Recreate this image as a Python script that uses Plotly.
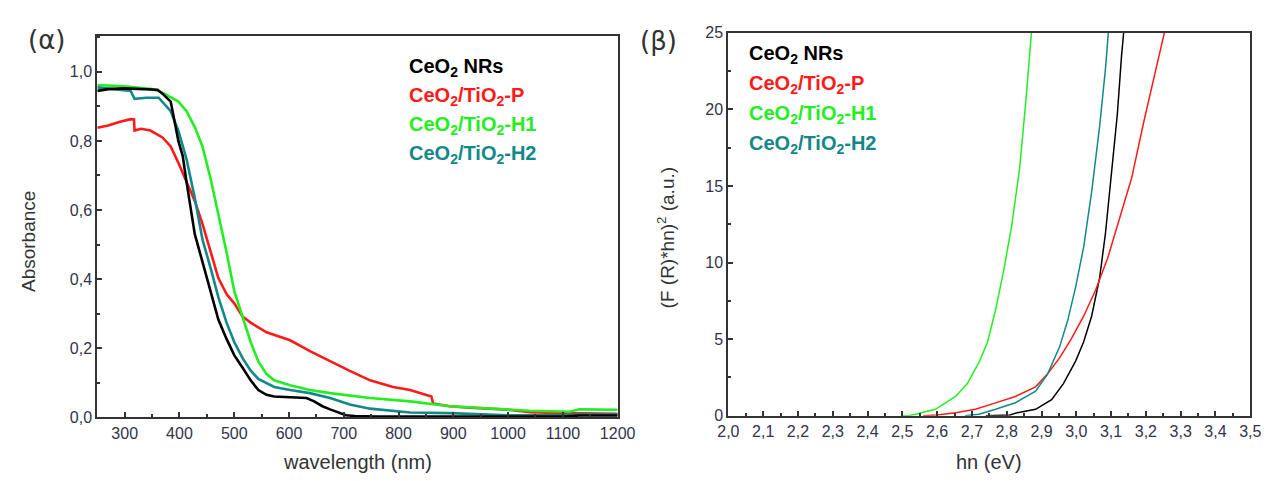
import plotly.graph_objects as go

# ---------------- data: panel (α) absorbance vs wavelength ----------------
wl_nrs = [250, 270, 300, 330, 360, 369, 384, 398, 406, 413, 428, 442, 457, 471, 486, 500, 515, 530,
          544, 559, 573, 600, 617, 632, 646, 661, 675, 690, 704, 720, 733, 760, 800, 900, 1000, 1100,
          1130, 1200]
ab_nrs = [0.945, 0.950, 0.952, 0.950, 0.948, 0.937, 0.914, 0.80, 0.756, 0.68, 0.53, 0.45, 0.366, 0.283,
          0.227, 0.18, 0.144, 0.107, 0.079, 0.065, 0.06, 0.058, 0.058, 0.056, 0.046, 0.032, 0.023, 0.014,
          0.006, 0.004, 0.003, 0.002, 0.002, 0.002, 0.002, 0.002, 0.005, 0.005]

wl_p = [250, 270, 290, 311, 317, 318, 330, 347, 369, 384, 398, 413, 428, 442, 457, 471, 486, 500, 515,
        530, 559, 602, 640, 675, 710, 748, 790, 821, 850, 860, 863, 893, 929, 970, 1000, 1040, 1100, 1200]
ab_p = [0.838, 0.845, 0.855, 0.863, 0.862, 0.830, 0.835, 0.830, 0.810, 0.784, 0.737, 0.680, 0.626, 0.560,
        0.478, 0.403, 0.357, 0.330, 0.292, 0.274, 0.246, 0.223, 0.19, 0.162, 0.135, 0.107, 0.088, 0.079,
        0.065, 0.060, 0.040, 0.032, 0.028, 0.025, 0.022, 0.015, 0.012, 0.010]

wl_h1 = [250, 300, 350, 369, 398, 413, 428, 442, 457, 471, 486, 500, 515, 530, 544, 559, 573, 602, 638,
         675, 748, 821, 893, 966, 1039, 1112, 1130, 1200]
ab_h1 = [0.962, 0.958, 0.950, 0.940, 0.914, 0.886, 0.840, 0.784, 0.690, 0.589, 0.478, 0.366, 0.292, 0.218,
         0.162, 0.125, 0.107, 0.093, 0.079, 0.070, 0.056, 0.046, 0.032, 0.025, 0.019, 0.016, 0.023, 0.022]

wl_h2 = [250, 280, 311, 318, 340, 362, 384, 398, 413, 428, 442, 457, 471, 486, 500, 515, 530, 544, 573,
         602, 638, 675, 711, 748, 784, 821, 893, 1000, 1100, 1130, 1200]
ab_h2 = [0.955, 0.950, 0.945, 0.922, 0.925, 0.925, 0.886, 0.830, 0.747, 0.635, 0.515, 0.431, 0.348, 0.274,
         0.218, 0.172, 0.135, 0.111, 0.088, 0.079, 0.070, 0.056, 0.037, 0.025, 0.019, 0.014, 0.012, 0.006,
         0.006, 0.009, 0.009]

# ---------------- data: panel (β) Tauc plot ----------------
ev_nrs = [2.74, 2.78, 2.81, 2.825, 2.883, 2.929, 2.963, 2.998, 3.021, 3.044, 3.067, 3.084, 3.101, 3.118,
          3.13, 3.136]
tc_nrs = [0, 0.02, 0.05, 0.17, 0.42, 1.05, 2.1, 3.57, 4.82, 6.5, 9.0, 11.95, 15.7, 19.7, 23.5, 25]

ev_p = [2.56, 2.60, 2.653, 2.71, 2.768, 2.825, 2.883, 2.917, 2.952, 2.986, 3.021, 3.055, 3.09, 3.124,
        3.159, 3.193, 3.228, 3.253]
tc_p = [0, 0.05, 0.2, 0.42, 0.84, 1.26, 1.89, 2.73, 3.78, 5.03, 6.5, 8.18, 10.28, 12.79, 15.52, 19.1,
        22.44, 25]

ev_h1 = [2.50, 2.52, 2.538, 2.595, 2.653, 2.687, 2.722, 2.745, 2.768, 2.791, 2.814, 2.837, 2.854, 2.871]
tc_h1 = [0, 0.02, 0.1, 0.42, 1.26, 2.1, 3.57, 4.82, 6.92, 9.44, 12.37, 16.15, 20.3, 25]

ev_h2 = [2.68, 2.72, 2.768, 2.825, 2.883, 2.917, 2.952, 2.975, 2.998, 3.021, 3.044, 3.067, 3.084, 3.092]
tc_h2 = [0, 0.1, 0.42, 0.85, 1.6, 2.7, 4.5, 6.2, 8.4, 11.0, 14.6, 18.9, 22.7, 25]

series_names = ["CeO<sub>2</sub> NRs", "CeO<sub>2</sub>/TiO<sub>2</sub>-P",
                "CeO<sub>2</sub>/TiO<sub>2</sub>-H1", "CeO<sub>2</sub>/TiO<sub>2</sub>-H2"]
colors = ["#000000", "#ff1a1a", "#22ee22", "#128888"]

# tick labels
a_xticks = [300, 400, 500, 600, 700, 800, 900, 1000, 1100, 1200]
a_xlabels = ["300", "400", "500", "600", "700", "800", "900", "1000", "1100", "1200"]
a_yticks = [0.0, 0.2, 0.4, 0.6, 0.8, 1.0]
a_ylabels = ["0,0", "0,2", "0,4", "0,6", "0,8", "1,0"]
b_xticks = [2.0, 2.1, 2.2, 2.3, 2.4, 2.5, 2.6, 2.7, 2.8, 2.9, 3.0, 3.1, 3.2, 3.3, 3.4, 3.5]
b_xlabels = ["2,0", "2,1", "2,2", "2,3", "2,4", "2,5", "2,6", "2,7", "2,8", "2,9", "3,0", "3,1", "3,2",
             "3,3", "3,4", "3,5"]
b_yticks = [0, 5, 10, 15, 20, 25]
b_ylabels = ["0", "5", "10", "15", "20", "25"]

W, H = 1280, 481


def px(x):
    return x / W


def py(y):
    return 1 - y / H


fig = go.Figure()

left = [(wl_nrs, ab_nrs), (wl_p, ab_p), (wl_h1, ab_h1), (wl_h2, ab_h2)]
right = [(ev_nrs, tc_nrs), (ev_p, tc_p), (ev_h1, tc_h1), (ev_h2, tc_h2)]
order = [1, 2, 3, 0]  # drawing order (black on top in panel α)
for i in order:
    xs, ys = left[i]
    fig.add_trace(go.Scatter(x=xs, y=ys, mode="lines", line=dict(color=colors[i], width=2.6),
                             xaxis="x", yaxis="y", showlegend=False, name=series_names[i]))
for i in range(4):
    xs, ys = right[i]
    fig.add_trace(go.Scatter(x=xs, y=ys, mode="lines", line=dict(color=colors[i], width=1.5),
                             xaxis="x2", yaxis="y2", showlegend=False, name=series_names[i]))

axis_common = dict(showline=True, linecolor="#333333", linewidth=2, mirror=True, showgrid=False,
                   zeroline=False, ticks="inside", ticklen=5, tickwidth=1.5, tickcolor="#333333",
                   tickfont=dict(family="Liberation Sans, Arial, sans-serif", size=16, color="#33334a"),
                   fixedrange=True)

fig.update_layout(
    width=W, height=H, margin=dict(l=0, r=0, t=0, b=0),
    paper_bgcolor="white", plot_bgcolor="white",
    xaxis=dict(domain=[px(88.3), px(620.7)], anchor="y", range=[250, 1200], tickmode="array",
               tickvals=a_xticks, ticktext=a_xlabels,
               minor=dict(ticks="inside", ticklen=3, dtick=50, tick0=0, tickcolor="#333333"),
               **axis_common),
    yaxis=dict(domain=[py(424.3), py(29.3)], anchor="x", range=[0, 1.103], tickmode="array",
               tickvals=a_yticks, ticktext=a_ylabels,
               minor=dict(ticks="inside", ticklen=3, dtick=0.1, tick0=0, tickcolor="#333333"),
               **axis_common),
    xaxis2=dict(domain=[px(734), px(1268)], anchor="y2", range=[2.0, 3.5], tickmode="array",
                tickvals=b_xticks, ticktext=b_xlabels,
                minor=dict(ticks="inside", ticklen=3, dtick=0.05, tick0=0, tickcolor="#333333"),
                **axis_common),
    yaxis2=dict(domain=[py(422.7), py(25.8)], anchor="x2", range=[0, 25], tickmode="array",
                tickvals=b_yticks, ticktext=b_ylabels,
                minor=dict(ticks="inside", ticklen=3, dtick=2.5, tick0=0, tickcolor="#333333"),
                **axis_common),
)

xt_font = dict(family="Liberation Sans, Arial, sans-serif", size=20, color="#333333")
yt_font = dict(family="Liberation Sans, Arial, sans-serif", size=19, color="#333333")
ann = []
# axis titles
ann.append(dict(text="wavelength (nm)", x=px(354.5), y=py(471), xanchor="center", yanchor="middle",
                font=xt_font))
ann.append(dict(text="Absorbance", x=px(18), y=py(242), xanchor="center", yanchor="middle",
                textangle=-90, font=yt_font))
ann.append(dict(text="hn (eV)", x=px(1001), y=py(471), xanchor="center", yanchor="middle",
                font=xt_font))
ann.append(dict(text="(F (R)*hn)<sup>2</sup> (a.u.)", x=px(670), y=py(238), xanchor="center",
                yanchor="middle", textangle=-90, font=yt_font))
# panel labels
ann.append(dict(text="(α)", x=px(36), y=py(33), xanchor="center", yanchor="middle",
                font=dict(family="DejaVu Sans, sans-serif", size=26, color="#333333")))
ann.append(dict(text="(β)", x=px(663), y=py(34), xanchor="center", yanchor="middle",
                font=dict(family="DejaVu Sans, sans-serif", size=26, color="#333333")))
# legends as coloured text
left_leg_y = [62, 92, 122, 152]
right_leg_y = [48, 79, 110, 141]
for i in range(4):
    ann.append(dict(text="<b>" + series_names[i] + "</b>", x=px(405), y=py(left_leg_y[i]),
                    xanchor="left", yanchor="middle",
                    font=dict(family="Liberation Sans, Arial, sans-serif", size=20, color=colors[i])))
    ann.append(dict(text="<b>" + series_names[i] + "</b>", x=px(753), y=py(right_leg_y[i]),
                    xanchor="left", yanchor="middle",
                    font=dict(family="Liberation Sans, Arial, sans-serif", size=20, color=colors[i])))
for a in ann:
    a.update(xref="paper", yref="paper", showarrow=False)
fig.update_layout(annotations=ann)

fig.write_html("out.html")
